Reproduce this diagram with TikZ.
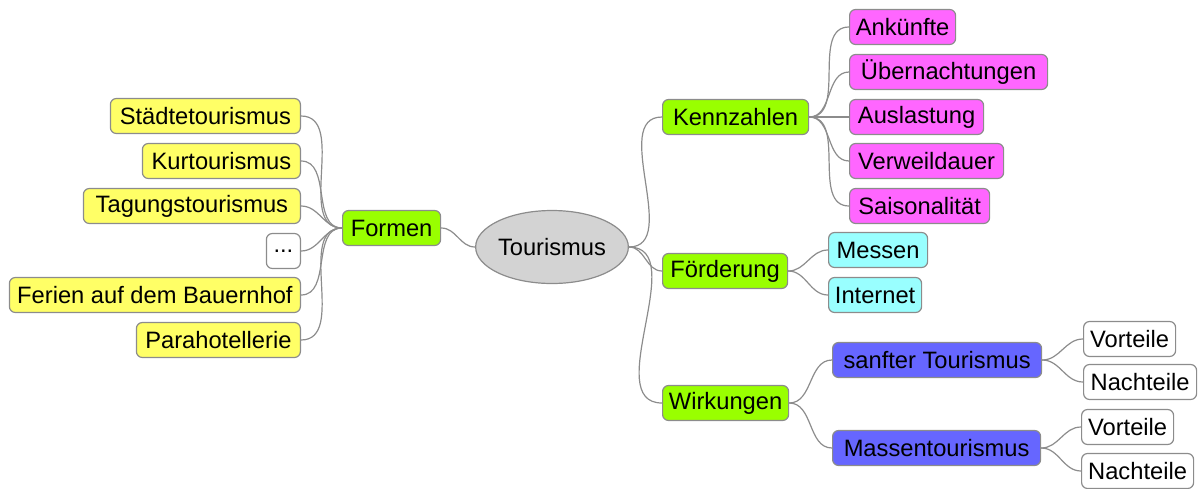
\documentclass[tikz,border=0pt]{standalone}
\usepackage{fontspec}
\setmainfont{Liberation Sans}
\usepackage{tikz}
\usetikzlibrary{shapes, positioning}
\usepackage{xcolor}
\definecolor{mmyellow}{RGB}{255,255,102}
\definecolor{mmgreen}{RGB}{153,255,0}
\definecolor{mmpink}{RGB}{255,102,255}
\definecolor{mmcyan}{RGB}{153,255,255}
\definecolor{mmblue}{RGB}{102,102,255}
\definecolor{mmroot}{RGB}{211,211,211}
\definecolor{mmborder}{RGB}{140,140,140}

\begin{document}
\begin{tikzpicture}[
                x=1pt, y=-1pt,
                font=\fontsize{23.7}{27}\selectfont,
                basenode/.style={shape=rectangle, rounded corners=6pt, draw=mmborder, line width=1.2pt, minimum height=35pt, inner xsep=0pt, inner ysep=0pt},
                yellownode/.style={basenode, fill=mmyellow, anchor=east},
                greennode/.style={basenode, fill=mmgreen, anchor=west},
                pinknode/.style={basenode, fill=mmpink, anchor=west},
                cyannode/.style={basenode, fill=mmcyan, anchor=west},
                bluenode/.style={basenode, fill=mmblue, anchor=west},
                whitenode/.style={basenode, fill=white, anchor=west},
                rootnode/.style={shape=ellipse, fill=mmroot, draw=mmborder, line width=1.2pt, minimum width=141pt, minimum height=73pt, inner sep=0pt},
                branch/.style={draw=mmborder, line width=1.2pt}
                ]
                \useasboundingbox (0,0) rectangle (1202,488);

                %% Root
                \node[rootnode] (tourismus) at (552,247) {Tourismus};

                %% Left side
                \node[greennode, minimum width=98pt] (formen) at (342,228) {Formen};
                \node[yellownode, minimum width=190pt] (staedte) at (301,116) {Städtetourismus};
                \node[yellownode, minimum width=158pt] (kur) at (301,161) {Kurtourismus};
                \node[yellownode, minimum width=217pt] (tagung) at (301,206) {Tagungstourismus};
                \node[basenode, fill=white, anchor=east, minimum width=34pt] (dots) at (301,251) {...};
                \node[yellownode, minimum width=291pt] (ferien) at (301,295) {Ferien auf dem Bauernhof};
                \node[yellownode, minimum width=164pt] (para) at (301,340) {Parahotellerie};

                %% Right side
                \node[greennode, minimum width=146pt] (kennzahlen) at (662,117) {Kennzahlen\hspace{16pt}};
                \node[greennode, minimum width=125pt] (foerderung) at (662,271) {Förderung};
                \node[greennode, minimum width=126pt] (wirkungen) at (662,403) {Wirkungen};

                \node[pinknode, minimum width=106pt] (ankuenfte) at (849,27) {Ankünfte};
                \node[pinknode, minimum width=198pt] (uebernacht) at (849,72) {Übernachtungen};
                \node[pinknode, minimum width=134pt] (auslastung) at (849,117) {Auslastung};
                \node[pinknode, minimum width=154pt] (verweil) at (849,161) {Verweildauer};
                \node[pinknode, minimum width=140pt] (saison) at (849,206) {Saisonalität};

                \node[cyannode, minimum width=99pt] (messen) at (828,250) {Messen};
                \node[cyannode, minimum width=93pt] (internet) at (828,295) {Internet};

                \node[bluenode, minimum width=209pt] (sanft) at (832,360) {sanfter Tourismus};
                \node[bluenode, minimum width=208pt] (massen) at (832,448) {Massentourismus};

                \node[whitenode, minimum width=92pt] (sanftvor) at (1083,339) {Vorteile};
                \node[whitenode, minimum width=113pt] (sanftnach) at (1083,382) {Nachteile};
                \node[whitenode, minimum width=92pt] (massenvor) at (1081,427) {Vorteile};
                \node[whitenode, minimum width=112pt] (massennach) at (1081,471) {Nachteile};

                %% Branches
                \draw[branch] (tourismus.west) to[out=180, in=0] (formen.east);
                \foreach \leaf in {staedte, kur, tagung, dots, ferien, para}
                    \draw[branch] (formen.west) to[out=180, in=0] (\leaf.east);

                \foreach \child in {kennzahlen, foerderung, wirkungen}
                    \draw[branch] (tourismus.east) to[out=0, in=180] (\child.west);
                \foreach \leaf in {ankuenfte, uebernacht, auslastung, verweil, saison}
                    \draw[branch] (kennzahlen.east) to[out=0, in=180] (\leaf.west);
                \foreach \leaf in {messen, internet}
                    \draw[branch] (foerderung.east) to[out=0, in=180] (\leaf.west);
                \foreach \leaf in {sanft, massen}
                    \draw[branch] (wirkungen.east) to[out=0, in=180] (\leaf.west);
                \foreach \leaf in {sanftvor, sanftnach}
                    \draw[branch] (sanft.east) to[out=0, in=180] (\leaf.west);
                \foreach \leaf in {massenvor, massennach}
                    \draw[branch] (massen.east) to[out=0, in=180] (\leaf.west);
\end{tikzpicture}
\end{document}
